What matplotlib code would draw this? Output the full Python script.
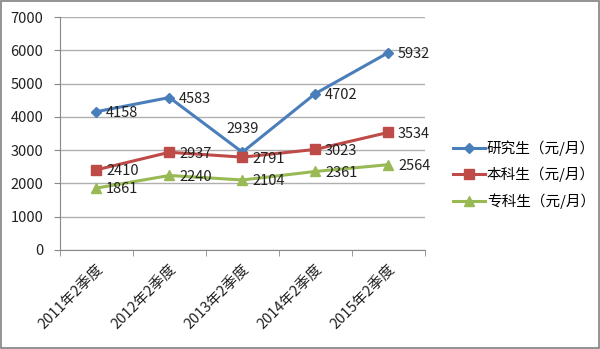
import matplotlib
matplotlib.use('Agg')
import matplotlib.pyplot as plt
import numpy as np

plt.rcParams['font.family'] = ['Noto Sans CJK SC', 'DejaVu Sans']

quarters = ['2011年2季度', '2012年2季度', '2013年2季度', '2014年2季度', '2015年2季度']
grad = [4158, 4583, 2939, 4702, 5932]
bachelor = [2410, 2937, 2791, 3023, 3534]
college = [1861, 2240, 2104, 2361, 2564]
series_names = ['研究生（元/月）', '本科生（元/月）', '专科生（元/月）']

fig = plt.figure(figsize=(6, 3.49), dpi=100)
fig.patch.set_facecolor('white')
# thin grey frame around the whole chart
fig.add_artist(plt.Rectangle((0.002, 0.003), 0.996, 0.994, transform=fig.transFigure,
                             fill=False, edgecolor='#808080', linewidth=1.2))

ax = fig.add_axes([0.1, 0.2837, 0.608, 0.6673])
x = np.arange(len(quarters))

styles = [
    (grad, '#4A7EBB', 'D', 5),
    (bachelor, '#BE4B48', 's', 7),
    (college, '#98B954', '^', 7),
]
for (vals, color, marker, ms), name in zip(styles, series_names):
    ax.plot(x, vals, color=color, linewidth=2.2, marker=marker, markersize=ms,
            markerfacecolor=color, markeredgecolor=color, label=name, zorder=3)
    for i, v in enumerate(vals):
        if vals is grad and i == 2:
            ax.annotate(str(v), (i, v), xytext=(0, 12), textcoords='offset points',
                        ha='center', va='bottom', fontsize=10.5, color='#222222')
        else:
            ax.annotate(str(v), (i, v), xytext=(7, -1), textcoords='offset points',
                        ha='left', va='center', fontsize=10.5, color='#222222')

ax.set_xlim(-0.5, len(quarters) - 0.5)
ax.set_ylim(0, 7000)
ax.set_yticks(range(0, 7001, 1000))
ax.set_xticks(x)
ax.set_xticklabels(quarters, rotation=45, ha='right', rotation_mode='anchor',
                   fontsize=10.5, color='#222222')
ax.set_xticks(np.arange(-0.5, len(quarters)), minor=True)
ax.tick_params(axis='x', which='major', length=0, pad=9)
ax.tick_params(axis='x', which='minor', length=4, color='#888888')
ax.tick_params(axis='y', length=4, color='#888888', labelsize=10.5, labelcolor='#222222', pad=8)

ax.grid(axis='y', color='#B0B0B0', linewidth=1)
ax.set_axisbelow(True)
for side in ['top', 'right']:
    ax.spines[side].set_visible(False)
ax.spines['left'].set_color('#888888')
ax.spines['bottom'].set_color('#888888')

ax.legend(loc='center left', bbox_to_anchor=(1.04, 0.325), frameon=False, fontsize=10.5,
          handlelength=2.2, handletextpad=0.15, labelspacing=0.75)

fig.savefig('out.png', dpi=100)
